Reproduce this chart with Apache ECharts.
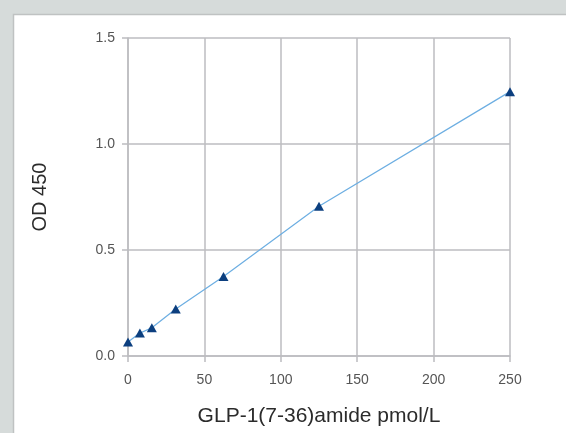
<!DOCTYPE html>
<html>
<head>
<meta charset="utf-8">
<script src="https://cdn.jsdelivr.net/npm/echarts@6/dist/echarts.min.js"></script>
<style>
html,body{margin:0;padding:0;background:#d6dbda;}
#chart{width:566px;height:433px;}
</style>
</head>
<body>
<div id="chart"></div>
<script>
const concentrations = [0, 7.8, 15.6, 31.25, 62.5, 125, 250];
const od450 = [0.066, 0.108, 0.133, 0.222, 0.375, 0.706, 1.247];
const xTicks = [0, 50, 100, 150, 200, 250];
const yTicks = [0.0, 0.5, 1.0, 1.5];
const xName = 'GLP-1(7-36)amide pmol/L';
const yName = 'OD 450';

const chart = echarts.init(document.getElementById('chart'), null, {renderer: 'canvas'});
const gridColor = '#bcbcc0';
const font = '"Liberation Sans", Arial, Helvetica, sans-serif';
chart.setOption({
  backgroundColor: '#d6dbda',
  animation: false,
  graphic: [{
    type: 'rect', z: -10, silent: true,
    shape: {x: 13.5, y: 14.5, width: 600, height: 500},
    style: {fill: '#ffffff', stroke: '#bfc2c2', lineWidth: 1.5}
  }],
  grid: {left: 128, right: 56, top: 38, bottom: 77, containLabel: false},
  xAxis: {
    type: 'value', min: xTicks[0], max: xTicks[xTicks.length - 1], interval: 50,
    name: xName, nameLocation: 'middle', nameGap: 50,
    nameTextStyle: {fontFamily: font, fontSize: 21, color: '#2b2b2b'},
    axisLine: {show: true, lineStyle: {color: gridColor, width: 1.5}},
    axisTick: {show: true, inside: false, length: 6, lineStyle: {color: gridColor, width: 1.5}},
    axisLabel: {margin: 17, fontFamily: font, fontSize: 14, color: '#555'},
    splitLine: {show: true, lineStyle: {color: gridColor, width: 1.5}}
  },
  yAxis: {
    type: 'value', min: yTicks[0], max: yTicks[yTicks.length - 1], interval: 0.5,
    name: yName, nameLocation: 'middle', nameGap: 78, nameRotate: 90,
    nameTextStyle: {fontFamily: font, fontSize: 20, color: '#2b2b2b'},
    axisLine: {show: true, lineStyle: {color: gridColor, width: 1.5}},
    axisTick: {show: true, inside: false, length: 6, lineStyle: {color: gridColor, width: 1.5}},
    axisLabel: {margin: 13, fontFamily: font, fontSize: 14, color: '#555',
      formatter: v => v.toFixed(1)},
    splitLine: {show: true, lineStyle: {color: gridColor, width: 1.5}}
  },
  series: [{
    type: 'line',
    data: concentrations.map((c, i) => [c, od450[i]]),
    symbol: 'triangle', symbolSize: [10, 9],
    showAllSymbol: true,
    lineStyle: {color: '#6caee2', width: 1.2},
    itemStyle: {color: '#0c3f7f', borderWidth: 0},
    clip: false
  }]
});
</script>
</body>
</html>
